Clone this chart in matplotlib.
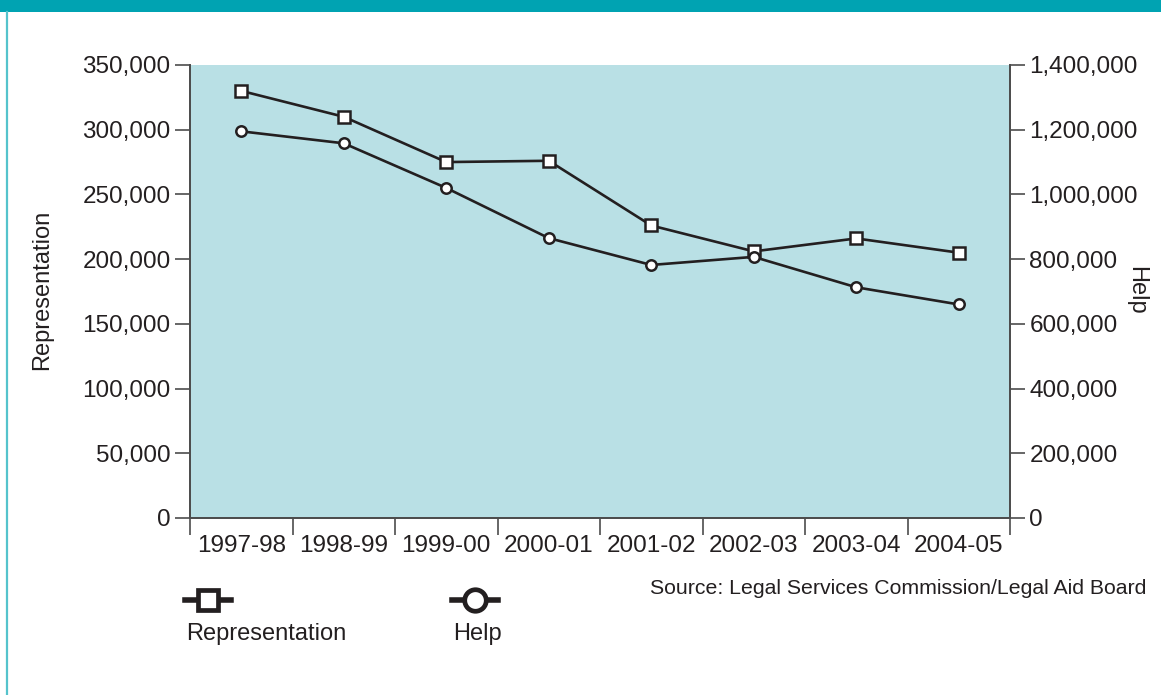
import matplotlib
matplotlib.use("Agg")
import matplotlib.pyplot as plt
from matplotlib.lines import Line2D
from matplotlib.patches import Rectangle
from matplotlib.ticker import FuncFormatter, FixedLocator

plt.rcParams['font.family'] = ['Liberation Sans', 'DejaVu Sans']

years = ["1997-98", "1998-99", "1999-00", "2000-01", "2001-02", "2002-03", "2003-04", "2004-05"]
representation = [330000, 310000, 275000, 276000, 226000, 206000, 216000, 205000]
help_cases = [1195000, 1158000, 1020000, 865000, 782000, 807000, 713000, 660000]
left_ticks = [0, 50000, 100000, 150000, 200000, 250000, 300000, 350000]
right_ticks = [0, 200000, 400000, 600000, 800000, 1000000, 1200000, 1400000]

INK = "#231f20"
SPINE = "#4d4d4d"
PANEL = "#b9e0e5"
TEAL = "#00a3b2"

W, H = 1161, 695
fig = plt.figure(figsize=(W / 100, H / 100), dpi=100)

# frame decorations
fig.add_artist(Rectangle((0, 1 - 12 / H), 1, 12 / H, transform=fig.transFigure,
                         facecolor=TEAL, edgecolor="none"))
fig.add_artist(Line2D([6.5 / W, 6.5 / W], [0, 1 - 12 / H], transform=fig.transFigure,
                      color="#55c3cc", lw=1.6))

ax = fig.add_axes([190 / W, 1 - 518 / H, 820 / W, 453 / H])
ax.set_facecolor(PANEL)
ax2 = ax.twinx()

x = list(range(len(years)))
fmt = FuncFormatter(lambda v, p: f"{int(v):,}")

ax.plot(x, representation, color=INK, lw=1.9, marker="s", markersize=8.5,
        markerfacecolor="white", markeredgecolor=INK, markeredgewidth=1.8, zorder=3)
ax2.plot(x, help_cases, color=INK, lw=1.9, marker="o", markersize=7.5,
         markerfacecolor="white", markeredgecolor=INK, markeredgewidth=1.8, zorder=3)

ax.set_xlim(-0.5, len(years) - 0.5)
ax.set_ylim(0, 350000)
ax2.set_ylim(0, 1400000)

ax.set_yticks(left_ticks)
ax.yaxis.set_major_formatter(fmt)
ax2.set_yticks(right_ticks)
ax2.yaxis.set_major_formatter(fmt)

# category boundaries as ticks, labels centred under each point
ax.xaxis.set_major_locator(FixedLocator([i - 0.5 for i in range(len(years) + 1)]))
ax.xaxis.set_major_formatter(FuncFormatter(lambda v, p: ""))
ax.xaxis.set_minor_locator(FixedLocator(x))
ax.set_xticklabels(years, minor=True)

for a in (ax, ax2):
    a.spines["top"].set_visible(False)
    for s in ("left", "right", "bottom"):
        a.spines[s].set_color(SPINE)
        a.spines[s].set_linewidth(1.3)

TS = 17.5
ax.tick_params(axis="y", length=11, width=1.2, color=SPINE, labelsize=TS,
               labelcolor=INK, pad=3)
ax2.tick_params(axis="y", length=11, width=1.2, color=SPINE, labelsize=TS,
                labelcolor=INK, pad=3)
ax.tick_params(axis="x", which="major", length=12, width=1.2, color=SPINE)
ax.tick_params(axis="x", which="minor", length=0, labelsize=TS, labelcolor=INK, pad=12)

fig.text(42 / W, 1 - 290 / H, "Representation", rotation=90, ha="center", va="center",
         fontsize=17, color=INK)
fig.text(1136 / W, 1 - 290 / H, "Help", rotation=-90, ha="center", va="center",
         fontsize=17, color=INK)

fig.text(1146 / W, 1 - 588 / H, "Source: Legal Services Commission/Legal Aid Board",
         ha="right", va="center", fontsize=15.3, color=INK)

# legend keys
for cx, marker, ms, label in [(208, "s", 14.5, "Representation"), (475, "o", 15.5, "Help")]:
    fig.add_artist(Line2D([(cx - 23) / W, (cx + 23) / W], [1 - 600 / H, 1 - 600 / H],
                          transform=fig.transFigure, color=INK, lw=4.0))
    fig.add_artist(Line2D([cx / W], [1 - 600 / H], transform=fig.transFigure,
                          marker=marker, markersize=ms, markerfacecolor="white",
                          markeredgecolor=INK, markeredgewidth=3.4, linestyle="none"))
    fig.text((cx - 22) / W, 1 - 634 / H, label, ha="left", va="center",
             fontsize=17, color=INK)

fig.savefig("out.png", dpi=100, facecolor="white")
